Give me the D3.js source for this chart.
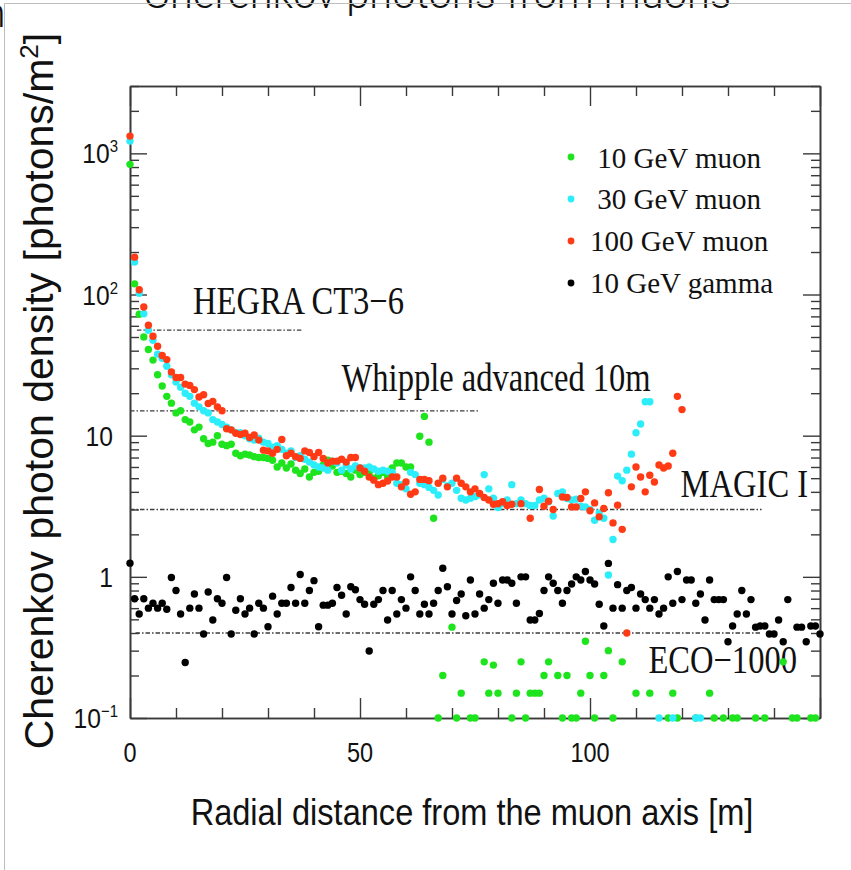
<!DOCTYPE html>
<html>
<head>
<meta charset="utf-8">
<script src="https://cdn.jsdelivr.net/npm/d3@7"></script>
<style>
  body { margin: 0; background: #fff; }
  svg { display: block; }
</style>
</head>
<body>
<svg id="chart" width="851" height="870"></svg>
<script>
// Radial distance from the muon axis, one sample per metre
const radius = d3.range(0, 151);

// Cherenkov photon density [photons/m^2]; null = no sample drawn
const muon10 = [
  836,119,72.5,50,40.8,34.3,27,22.5,19,17,
  14.5,15,13,12.5,11,11.5,9.5,8.8,9,10,
  8.7,8.5,8.7,7.5,7.2,7.4,7.3,7.1,7.0,7.0,
  6.9,6.7,6.0,6.4,5.9,6.3,5.7,5.4,5.8,5.1,
  5.5,5.6,6.2,6.7,6.1,5.5,5.6,5.4,5.1,5.7,
  5.3,5.5,5.5,5.0,5.2,5.5,5.1,5.9,6.4,6.4,
  6.0,6.0,null,9.9,13.7,9.0,2.6,0.1,0.2,null,
  0.44,0.1,0.15,null,0.1,0.1,null,0.25,0.15,0.237,
  0.15,null,null,0.1,0.15,0.25,0.1,0.15,0.15,0.15,
  0.2,0.25,null,0.2,0.1,0.2,0.1,0.1,0.15,0.35,
  0.2,0.1,null,0.2,0.3,0.1,null,0.25,null,null,
  0.15,null,null,0.15,null,null,null,0.1,0.15,0.1,
  null,null,null,0.1,null,null,0.15,0.1,null,0.1,
  null,0.1,0.1,null,null,null,0.1,null,0.1,null,
  null,null,0.25,null,0.1,0.1,null,null,0.1,0.1,
  null
];
const muon30 = [
  1222,170,102,73,55.8,47.4,37.8,35.4,31,27,
  24,22,20,19,17,16,15,14.5,13,12.5,
  12,11.5,11,10.5,10.5,10,9.5,9.3,9.6,9.0,
  8.8,8.3,8.5,8.0,7.5,7.8,7.0,7.2,6.8,6.5,
  6.2,6.0,5.9,5.7,6.6,6.4,5.7,6.2,5.8,6.1,
  5.9,5.9,6.0,5.8,5.6,5.7,5.6,5.5,4.6,4.5,
  4.2,5.5,5.3,4.6,4.5,4.3,4.1,3.8,4.9,4.4,
  4.6,4.1,3.6,3.5,3.6,3.7,3.8,5.3,4.2,3.6,
  3.1,3.3,3.5,4.5,3.3,3.5,3.3,3.2,3.2,3.5,
  3.6,3.4,2.7,3.9,4.0,3.59,3.5,3.55,3.16,3.13,
  3.0,2.52,2.84,2.6,1.03,1.84,5.17,4.79,5.7,7.4,
  10.5,12.1,17.4,17.4,null,0.1,null,null,0.1,null,
  null,null,null,0.1,0.1,null,null,null,null,null,
  null,null,null,null,null,null,null,null,null,null,
  null,null,null,null,null,null,null,null,null,null,
  null
];
const muon100 = [
  1325,184,108,81.6,60.6,50.6,43,37,34.6,28.3,
  25.8,25.8,23.2,22.7,21.2,18.8,19.5,16.9,17.5,16,
  15,11.2,11,10.4,10.2,10.4,9.7,10.1,9.3,7.9,
  7.8,7.5,8.0,9.4,7.2,7.5,7.1,6.9,7.8,7.6,
  7.1,7.6,6.9,6.4,6.6,6.6,6.8,6.5,7.0,7.0,
  5.9,5.6,5.1,4.84,4.5,4.6,4.77,5.1,5.1,4.34,
  4.7,3.85,4.0,4.9,4.9,4.8,null,4.6,5.0,4.34,
  null,5.0,4.6,4.34,4.0,4.2,3.9,3.65,3.5,3.27,
  3.3,3.4,3.2,3.27,null,3.3,null,2.6,null,4.16,
  3.16,3.43,3.0,null,3.68,3.65,3.13,3.13,3.59,4.0,
  2.94,3.34,2.66,3.05,3.94,2.41,3.22,2.17,0.40,4.34,
  6.0,5.1,4.0,5.25,4.7,6.2,5.9,6.1,7.5,19,
  15.3,null,null,null,null,null,null,null,null,null,
  null,null,null,null,null,null,null,null,null,null,
  null,null,null,null,null,null,null,null,null,null,
  null
];
const gamma10 = [
  1.25,0.70,0.545,0.70,0.60,0.65,0.60,0.65,0.59,0.99,
  0.80,0.545,0.247,0.60,0.755,0.60,0.394,0.78,0.494,0.70,
  0.65,0.99,0.394,0.58,0.70,0.545,0.60,0.394,0.65,0.60,
  0.443,0.73,0.545,0.65,0.65,0.84,0.65,1.04,0.65,0.80,
  0.94,0.443,0.63,0.63,0.65,0.84,0.74,0.545,0.85,0.81,
  0.69,0.64,0.298,0.64,0.69,0.80,0.494,0.80,0.545,0.69,
  0.60,1.0,0.80,0.545,0.64,0.545,0.65,0.80,1.15,0.85,
  0.545,0.68,0.755,0.53,0.95,0.545,0.755,0.60,0.69,0.90,
  0.65,0.95,0.95,0.90,0.65,1.0,1.0,0.494,0.494,0.55,
  0.80,1.0,0.90,0.80,0.65,0.80,0.89,1.0,0.95,1.09,
  0.95,0.89,0.64,0.448,1.245,0.60,0.88,0.60,0.80,0.84,
  0.60,0.755,0.69,0.60,0.69,0.545,0.60,1.0,0.65,1.09,
  0.69,0.95,0.95,0.65,0.755,0.494,0.95,0.69,0.69,0.69,
  0.347,0.448,0.545,0.80,0.545,0.69,0.44,0.448,0.448,0.394,
  0.394,0.494,0.347,0.69,null,0.44,0.44,0.347,0.448,0.448,
  0.394
];

const seriesLabels = [" 10 GeV muon", " 30 GeV muon", "100 GeV muon", "10 GeV gamma"];
const seriesColors = ["#1ee41e", "#2ceefa", "#ff3a14", "#000000"];
const seriesValues = [muon10, muon30, muon100, gamma10];

// Telescope trigger thresholds (photons/m^2) and the radial extent of each line
const telescopeNames = ["HEGRA CT3\u22126", "Whipple advanced 10m", "MAGIC I", "ECO\u22121000"];
const telescopeThresholds = [56, 15, 3, 0.4];
const telescopeLineFrom = [1.5, 0, 0, 1.2];
const telescopeLineTo = [37.5, 75.7, 137.3, 137];
const telescopeLabelAt = [13.7, 46, 119.7, 112.7];   // label start, metres
const telescopeLabelShift = [-16, -20, -12, 40];     // baseline offset from the line, px

const xTickLabels = [0, 50, 100];
const yTickLabels = [0.1, 1, 10, 100, 1000];

const titleText = "Cherenkov photons from muons";
const xTitle = "Radial distance from the muon axis [m]";
const yTitle = "Cherenkov photon density [photons/m";

const svg = d3.select("#chart");
const plot = { left: 130, right: 820, top: 86, bottom: 718 };

const x = d3.scaleLinear().domain([0, 150]).range([plot.left, plot.right]);
const y = d3.scaleLog().domain([0.1, 3000]).range([plot.bottom, plot.top]);

const sans = "'Liberation Sans', Arial, Helvetica, sans-serif";
const serif = "'Liberation Serif', 'Times New Roman', Times, serif";
const axisColor = "#3a3a3a";

// Page heading, partly above the visible area
svg.append("text")
  .attr("x", 143).attr("y", 8)
  .attr("font-family", "Roboto, 'Open Sans', sans-serif")
  .attr("font-weight", 300)
  .attr("font-size", 40)
  .attr("textLength", 588)
  .attr("lengthAdjust", "spacingAndGlyphs")
  .attr("fill", "#111")
  .text(titleText);
svg.append("text")
  .attr("x", 5.5).attr("y", 27)
  .attr("text-anchor", "end")
  .attr("font-family", "Roboto, 'Open Sans', sans-serif")
  .attr("font-weight", 300)
  .attr("font-size", 40)
  .attr("fill", "#111")
  .text("n");

// Thin page border
svg.append("line").attr("x1", 4).attr("x2", 851).attr("y1", 3.5).attr("y2", 3.5)
  .attr("stroke", "#bdbdbd").attr("stroke-width", 1);
svg.append("line").attr("x1", 4.5).attr("x2", 4.5).attr("y1", 3).attr("y2", 870)
  .attr("stroke", "#bdbdbd").attr("stroke-width", 1);

// Frame axes with inward ticks on all four sides
const logTicks = y.ticks();
const yMinor = logTicks.filter(v => !yTickLabels.includes(v));
const xMajor = [0, 50, 100, 150];
const xMinor = d3.range(0, 151, 10).filter(v => !xMajor.includes(v));

function frameAxis(gen, tx, ty) {
  const g = svg.append("g").attr("transform", `translate(${tx},${ty})`).call(gen);
  g.selectAll("path.domain").attr("stroke", axisColor).attr("stroke-width", 1.6);
  g.selectAll(".tick line").attr("stroke", axisColor).attr("stroke-width", 1.4);
  g.selectAll(".tick text").remove();
  return g;
}
frameAxis(d3.axisRight(y).tickValues(yTickLabels).tickSize(17).tickSizeOuter(0), plot.left, 0);
frameAxis(d3.axisRight(y).tickValues(yMinor).tickSize(9).tickSizeOuter(0), plot.left, 0);
frameAxis(d3.axisLeft(y).tickValues(yTickLabels).tickSize(17).tickSizeOuter(0), plot.right, 0);
frameAxis(d3.axisLeft(y).tickValues(yMinor).tickSize(9).tickSizeOuter(0), plot.right, 0);
frameAxis(d3.axisTop(x).tickValues(xMajor).tickSize(20).tickSizeOuter(0), 0, plot.bottom);
frameAxis(d3.axisTop(x).tickValues(xMinor).tickSize(10).tickSizeOuter(0), 0, plot.bottom);
frameAxis(d3.axisBottom(x).tickValues(xMajor).tickSize(20).tickSizeOuter(0), 0, plot.top);
frameAxis(d3.axisBottom(x).tickValues(xMinor).tickSize(10).tickSizeOuter(0), 0, plot.top);

// Horizontally narrowed text, as in the printed figure
function narrowText(px, py, sx, anchor) {
  return svg.append("text")
    .attr("transform", `translate(${px},${py}) scale(${sx},1)`)
    .attr("text-anchor", anchor || "start");
}

// Tick labels
xTickLabels.forEach(v => {
  narrowText(x(v), 762, 0.84, "middle")
    .attr("font-family", sans).attr("font-size", 28).attr("fill", "#111")
    .text(v);
});
yTickLabels.forEach(v => {
  const e = Math.round(Math.log10(v));
  if (e === 0 || e === 1) {
    narrowText(113, y(v) + 10, 0.88, "end")
      .attr("font-family", sans).attr("font-size", 28).attr("fill", "#111")
      .text(e === 0 ? "1" : "10");
  } else {
    const t = narrowText(118, y(v) + 10, 0.88, "end")
      .attr("font-family", sans).attr("font-size", 28).attr("fill", "#111");
    t.append("tspan").text("10");
    t.append("tspan").attr("font-size", 17).attr("dy", -11).text(e < 0 ? "\u2212" + (-e) : e);
  }
});

// Axis titles
narrowText(472, 825, 0.88, "middle")
  .attr("font-family", sans).attr("font-size", 37).attr("fill", "#111")
  .text(xTitle);
const yt = svg.append("text")
  .attr("transform", `translate(53,391) rotate(-90)`)
  .attr("text-anchor", "middle")
  .attr("font-family", sans).attr("font-size", 41).attr("fill", "#111");
yt.append("tspan").text(yTitle);
yt.append("tspan").attr("font-size", 26).attr("dy", -15).text("2");
yt.append("tspan").attr("dy", 15).text("]");

// Threshold lines
telescopeNames.forEach((name, i) => {
  svg.append("line")
    .attr("x1", x(telescopeLineFrom[i])).attr("x2", x(telescopeLineTo[i]))
    .attr("y1", y(telescopeThresholds[i])).attr("y2", y(telescopeThresholds[i]))
    .attr("stroke", "#3c3c3c").attr("stroke-width", 1.3)
    .attr("stroke-dasharray", "4.5,2,1.5,2");
  narrowText(x(telescopeLabelAt[i]), y(telescopeThresholds[i]) + telescopeLabelShift[i], 0.835)
    .attr("font-family", serif).attr("font-size", 39).attr("fill", "#111")
    .text(name);
});

// Data points
seriesValues.forEach((vals, s) => {
  svg.append("g")
    .selectAll("circle")
    .data(radius.map((r, i) => ({ r, v: vals[i] })).filter(d => d.v != null))
    .join("circle")
    .attr("cx", d => x(d.r))
    .attr("cy", d => y(d.v))
    .attr("r", 3.7)
    .attr("fill", seriesColors[s]);
});

// Legend
const legend = svg.append("g");
seriesLabels.forEach((label, i) => {
  legend.append("circle")
    .attr("cx", 571).attr("cy", 157 + i * 42).attr("r", 3.4)
    .attr("fill", seriesColors[i]);
  legend.append("text")
    .attr("x", 590).attr("y", 167.5 + i * 41.8)
    .attr("font-family", serif).attr("font-size", 29).attr("fill", "#111")
    .style("white-space", "pre")
    .text(label);
});
</script>
</body>
</html>
